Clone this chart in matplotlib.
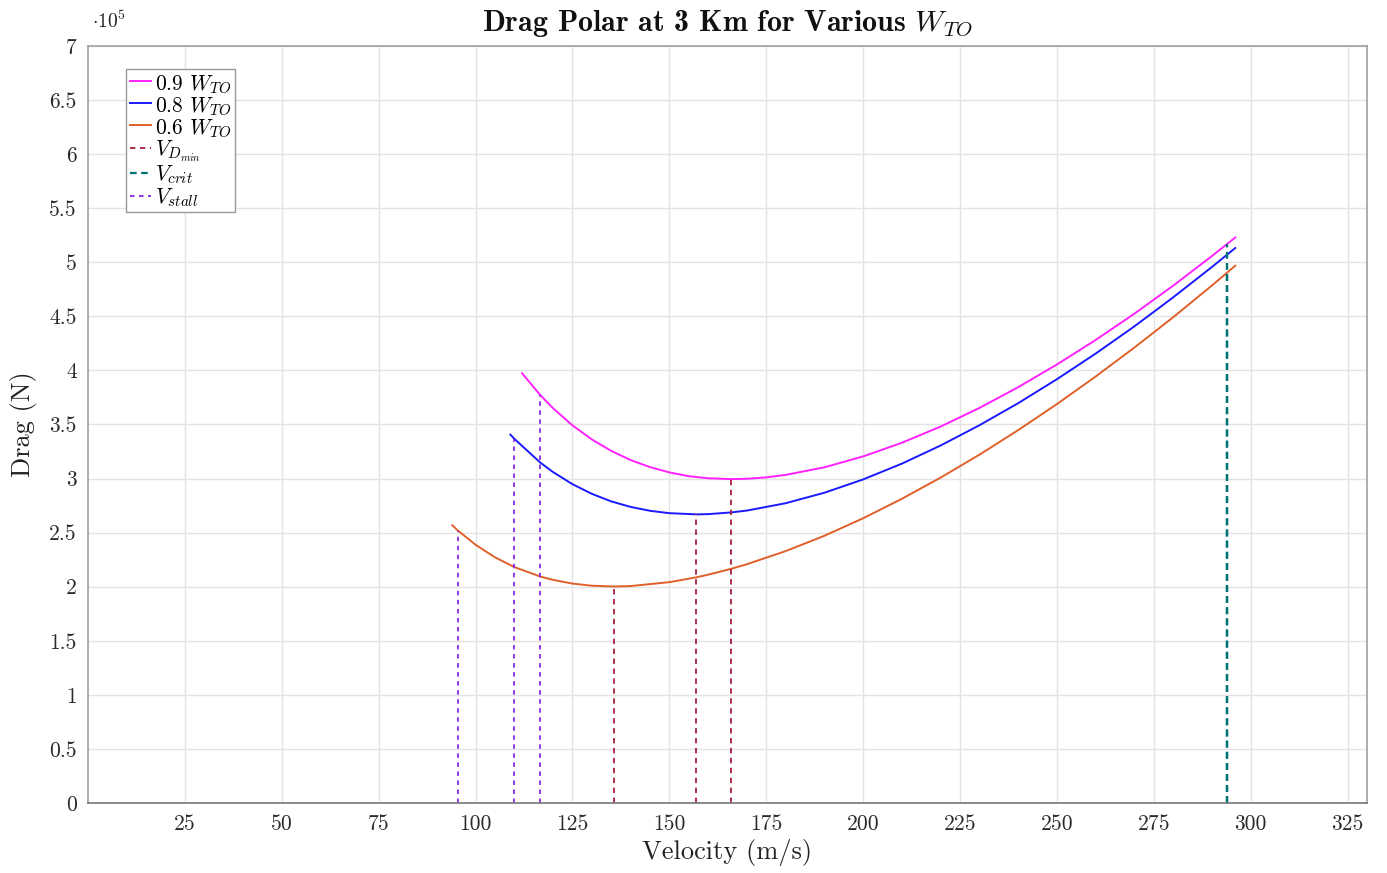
import matplotlib
matplotlib.use("Agg")
import matplotlib.pyplot as plt
import numpy as np

plt.rcParams["font.family"] = "cmr10"
plt.rcParams["mathtext.fontset"] = "cm"
plt.rcParams["axes.unicode_minus"] = False

# Drag values in units of 1e5 N
v_09 = [112, 116.7, 120, 125, 130, 135, 140, 145, 150, 155, 160, 166, 170, 175, 180, 190,
        200, 210, 220, 230, 240, 250, 260, 270, 280, 290, 296]
d_09 = [3.974, 3.772, 3.650, 3.492, 3.362, 3.256, 3.171, 3.106, 3.057, 3.022, 3.003, 2.995,
        2.998, 3.011, 3.034, 3.104, 3.205, 3.331, 3.481, 3.653, 3.845, 4.055, 4.282, 4.525,
        4.784, 5.058, 5.229]

v_08 = [109, 110, 116.7, 120, 125, 130, 135, 140, 145, 150, 157, 160, 166, 170, 180, 190,
        200, 210, 220, 230, 240, 250, 260, 270, 280, 290, 296]
d_08 = [3.406, 3.368, 3.148, 3.060, 2.948, 2.859, 2.789, 2.738, 2.702, 2.680, 2.669, 2.671,
        2.687, 2.704, 2.772, 2.869, 2.992, 3.138, 3.306, 3.493, 3.697, 3.919, 4.156, 4.408,
        4.676, 4.957, 5.132]

v_06 = [94, 95.5, 100, 105, 110, 116.7, 120, 125, 130, 135.8, 140, 150, 157, 160, 166, 170,
        180, 190, 200, 210, 220, 230, 240, 250, 260, 270, 280, 290, 296]
d_06 = [2.568, 2.518, 2.388, 2.272, 2.182, 2.094, 2.063, 2.029, 2.009, 2.002, 2.006, 2.042,
        2.087, 2.111, 2.166, 2.208, 2.329, 2.471, 2.633, 2.813, 3.009, 3.221, 3.448, 3.689,
        3.944, 4.212, 4.492, 4.786, 4.968]

# marker lines: velocity and drag at that velocity (0.9, 0.8, 0.6)
v_dmin = [166, 157, 135.8]
d_dmin = [2.995, 2.669, 2.002]
v_crit = [294, 294, 294]
d_crit = [5.171, 5.073, 4.907]
v_stall = [116.7, 110, 95.5]
d_stall = [3.772, 3.368, 2.518]

x_ticks = [25, 50, 75, 100, 125, 150, 175, 200, 225, 250, 275, 300, 325]
y_ticks = np.arange(0, 7.01, 0.5)

fig = plt.figure(figsize=(13.87, 8.73), dpi=100)
ax = fig.add_axes([0.0634, 0.0802, 0.9222, 0.8671])

c_09 = "#ff22ff"
c_08 = "#1a1aff"
c_06 = "#e0602a"
c_dmin = "#a8203c"
c_crit = "#007474"
c_stall = "#8a2be2"

ax.plot(v_09, d_09, color=c_09, lw=1.4, label=r"0.9 $W_{TO}$")
ax.plot(v_08, d_08, color=c_08, lw=1.4, label=r"0.8 $W_{TO}$")
ax.plot(v_06, d_06, color=c_06, lw=1.4, label=r"0.6 $W_{TO}$")

for i in range(3):
    ax.plot([v_dmin[i]] * 2, [0, d_dmin[i]], color=c_dmin, lw=1.3, dashes=(3, 2.5),
            label=r"$V_{D_{min}}$" if i == 0 else None)
for i in range(3):
    ax.plot([v_crit[i]] * 2, [0, d_crit[i]], color=c_crit, lw=1.6, dashes=(3, 2),
            label=r"$V_{crit}$" if i == 0 else None)
for i in range(3):
    ax.plot([v_stall[i]] * 2, [0, d_stall[i]], color=c_stall, lw=1.3, dashes=(2.5, 2.5),
            label=r"$V_{stall}$" if i == 0 else None)

ax.set_xlim(0, 330)
ax.set_ylim(0, 7)
ax.set_xticks(x_ticks)
ax.set_yticks(y_ticks)
ax.set_yticklabels(["%g" % t for t in y_ticks])
ax.tick_params(length=0, labelsize=15.5, labelcolor="#2a2a2a", pad=8)
ax.grid(True, color="#e3e3e3", lw=1)
ax.set_axisbelow(True)
for s in ax.spines.values():
    s.set_color("#a0a0a0")
    s.set_linewidth(1.2)
ax.spines["bottom"].set_color("#777777")

ax.set_xlabel("Velocity (m/s)", fontsize=19, color="#222222", labelpad=4)
ax.set_ylabel("Drag (N)", fontsize=19, color="#222222", labelpad=9)
ax.set_title(r"Drag Polar at 3 Km for Various $W_{TO}$", fontsize=21.5,
             fontfamily="cmb10", color="#111111", pad=11)
fig.text(0.066, 0.975, r"$\cdot10^5$", fontsize=14, color="#222222", va="center")

leg = ax.legend(loc="upper left", bbox_to_anchor=(0.030, 0.969), fontsize=15.5,
                frameon=True, fancybox=False, framealpha=1, edgecolor="#999999",
                handlelength=1.0, handletextpad=0.2, labelspacing=0.0,
                borderpad=0.15, borderaxespad=0)
leg.get_frame().set_linewidth(1.0)

fig.savefig("out.png", dpi=100)
